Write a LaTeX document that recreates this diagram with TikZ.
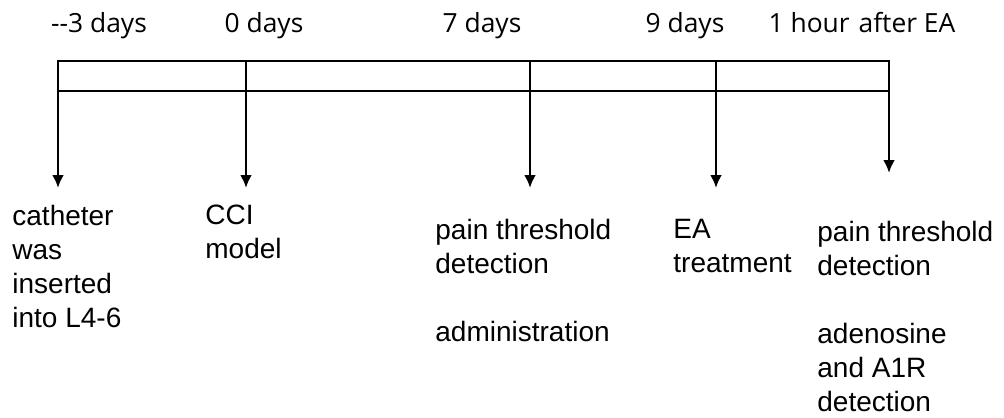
\documentclass[tikz,border=0pt]{standalone}
\usepackage{fontspec}
\setmainfont{Liberation Sans}
\newfontfamily\daysfont{Open Sans}
\usetikzlibrary{arrows.meta}

\begin{document}
\begin{tikzpicture}[x=0.5pt,y=-0.5pt]

  \tikzstyle{timeline}=[draw,line width=1.4pt]
  \tikzstyle{pointer}=[draw,line width=1.4pt,-{Latex[length=6.5pt,width=6pt]}]
  \tikzstyle{daynode}=[font=\daysfont\fontsize{13.2}{15}\selectfont,anchor=base,inner sep=0pt]
  \tikzstyle{stepnode}=[font=\fontsize{14}{17}\selectfont,align=left,anchor=base west,inner sep=0pt]

  \useasboundingbox (0,0) rectangle (1004,417);

  % time bar
  \draw[timeline] (58,61) rectangle (889,91);
  \foreach \x/\n in {58/1,246/2,530/3,716/4,889/5}{
    \draw[timeline] (\x,61) -- (\x,91);
    \coordinate (t\n) at (\x,91);
  }
  \coordinate (e1) at (58,188);
  \coordinate (e2) at (246,188);
  \coordinate (e3) at (530,188);
  \coordinate (e4) at (716,188);
  \coordinate (e5) at (889,173);

  % time labels
  \node[daynode] (d1) at (99,33) {-{}-3 days};
  \node[daynode] (d2) at (264,33) {0 days};
  \node[daynode] (d3) at (482,33) {7 days};
  \node[daynode] (d4) at (685,33) {9 days};
  \node[daynode] (d5) at (862,33) {1 hour\hspace{1pt} after EA};

  % steps (anchored at the baseline of their last line)
  \node[stepnode] (s1) at (12,327) {catheter\\was\\inserted\\into L4-6};
  \node[stepnode] (s2) at (205,258) {CCI\\model};
  \node[stepnode] (s3) at (435,341) {pain threshold\\detection\\[17pt]administration};
  \node[stepnode] (s4) at (673,272) {EA\\treatment};
  \node[stepnode] (s5) at (817,411) {pain threshold\\detection\\[17pt]adenosine\\and A1R\\detection};

  % pointers
  \foreach \n in {1,...,5}
    \draw[pointer] (t\n) -- (e\n);

\end{tikzpicture}
\end{document}
